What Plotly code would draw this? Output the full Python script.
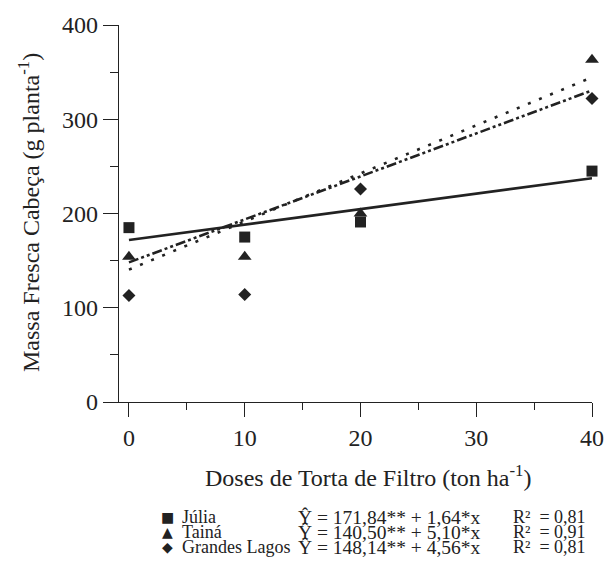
import plotly.graph_objects as go

# Data
doses = [0, 10, 20, 40]
cultivars = ["Júlia", "Tainá", "Grandes Lagos"]
julia = [185, 175, 191, 245]
taina = [154, 154, 200, 363]
grandes_lagos = [113, 114, 226, 322]
intercepts = [171.84, 140.50, 148.14]
slopes = [1.64, 5.10, 4.56]
r2 = ["0,81", "0,91", "0,81"]
eq_text = ["171,84** + 1,64*x", "140,50** + 5,10*x", "148,14** + 4,56*x"]
x_ticks = [0, 10, 20, 30, 40]
y_ticks = [0, 100, 200, 300, 400]

series = [julia, taina, grandes_lagos]
symbols = ["square", "triangle-up", "diamond"]
msizes = [11, 12, 10]
dashes = ["solid", "3px,9px", "10px,3px,3px,3px,3px,3px"]
glyphs = ["■", "▲", "◆"]

FONT = "Liberation Serif, Times New Roman, serif"
C = "#222222"

# pixel plot box
PL, PR, PT, PB = 119, 592, 25, 402
W, H = 604, 565

fig = go.Figure()
xfit = [0, 40]
for i in range(3):
    yfit = [intercepts[i] + slopes[i] * xv for xv in xfit]
    fig.add_trace(go.Scatter(x=xfit, y=yfit, mode="lines",
                             line=dict(color=C, width=2.6, dash=dashes[i]),
                             showlegend=False, hoverinfo="skip", cliponaxis=False))
for i in range(3):
    fig.add_trace(go.Scatter(x=doses, y=series[i], mode="markers", name=cultivars[i],
                             marker=dict(symbol=symbols[i], size=msizes[i], color=C),
                             showlegend=False, cliponaxis=False))

fig.update_layout(
    width=W, height=H,
    margin=dict(l=PL, r=W - PR, t=PT, b=H - PB),
    plot_bgcolor="white", paper_bgcolor="white",
    font=dict(family=FONT, size=24, color=C),
    xaxis=dict(range=[-0.86, 40], tickvals=x_ticks, ticks="outside", ticklen=14,
               tickwidth=1.2, tickcolor=C, showline=True, linecolor=C, linewidth=1.2,
               showgrid=False, zeroline=False, tickfont=dict(size=24, family=FONT),
               automargin=False,
               minor=dict(tickvals=[5, 15, 25, 35], ticks="outside", ticklen=7,
                          tickcolor=C, tickwidth=1.2)),
    yaxis=dict(range=[0, 400], tickvals=y_ticks, ticks="outside", ticklen=15,
               tickwidth=1.2, tickcolor=C, showline=True, linecolor=C, linewidth=1.2,
               showgrid=False, zeroline=False, tickfont=dict(size=24, family=FONT),
               automargin=False,
               minor=dict(tickvals=[50, 150, 250, 350], ticks="outside", ticklen=8,
                          tickcolor=C, tickwidth=1.2)),
)

def px(xpix):
    return (xpix - PL) / (PR - PL)

def py(ypix):
    return (PB - ypix) / (PB - PT)

# axis titles
fig.add_annotation(text="Massa Fresca Cabeça (g planta<sup>-1</sup>)", textangle=-90,
                   xref="paper", yref="paper", x=px(29), y=py(213), xanchor="center",
                   yanchor="middle", showarrow=False, font=dict(size=24, family=FONT, color=C))
fig.add_annotation(text="Doses de Torta de Filtro (ton ha<sup>-1</sup>)",
                   xref="paper", yref="paper", x=px(368), y=py(476), xanchor="center",
                   yanchor="middle", showarrow=False, font=dict(size=24, family=FONT, color=C))

# legend block
ys = [517, 532, 547]
for i in range(3):
    yp = py(ys[i])
    fig.add_annotation(text=glyphs[i], xref="paper", yref="paper", x=px(167), y=yp,
                       xanchor="center", yanchor="middle", showarrow=False,
                       font=dict(size=14, family="DejaVu Sans", color=C))
    fig.add_annotation(text=cultivars[i], xref="paper", yref="paper", x=px(180), y=yp,
                       xanchor="left", yanchor="middle", showarrow=False,
                       font=dict(size=18, family=FONT, color=C))
    fig.add_annotation(text="Ŷ = " + eq_text[i], xref="paper", yref="paper", x=px(296), y=yp,
                       xanchor="left", yanchor="middle", showarrow=False,
                       font=dict(size=19.5, family=FONT, color=C))
    fig.add_annotation(text="R²  = " + r2[i], xref="paper", yref="paper", x=px(511), y=yp,
                       xanchor="left", yanchor="middle", showarrow=False,
                       font=dict(size=18, family=FONT, color=C))

fig.write_html("out.html", config={"displayModeBar": False},
               post_script="document.body.style.margin='0';")
